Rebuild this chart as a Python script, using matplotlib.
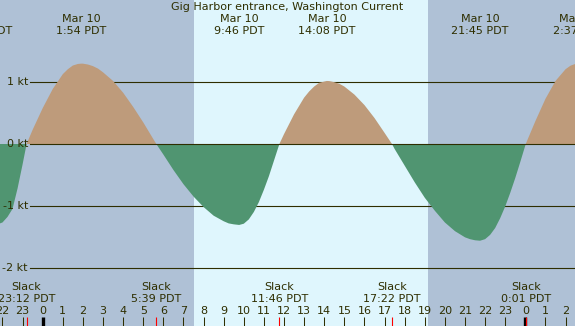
import numpy as np
import matplotlib
matplotlib.use("Agg")
import matplotlib.pyplot as plt

# current speed (kt), hours from Mar 10 00:00 PDT
hours = [-2.5, -2.25, -2.0, -1.75, -1.5, -1.25, -1.0, -0.8, -0.5, 0.0, 0.5, 1.0, 1.25, 1.5,
         1.75, 1.9, 2.0, 2.25, 2.5, 2.75, 3.0, 3.5, 4.0, 4.5, 5.0, 5.5, 5.65, 6.0, 6.5,
         7.0, 7.5, 8.0, 8.5, 9.0, 9.25, 9.5, 9.77, 10.0, 10.25, 10.5, 10.75, 11.0,
         11.25, 11.5, 11.77, 12.0, 12.5, 13.0, 13.25, 13.5, 13.75, 14.0, 14.13, 14.25,
         14.5, 14.75, 15.0, 15.5, 16.0, 16.5, 17.0, 17.37, 17.5, 18.0, 18.5, 19.0,
         19.5, 20.0, 20.5, 21.0, 21.25, 21.5, 21.75, 22.0, 22.25, 22.5, 22.75, 23.0,
         23.25, 23.5, 23.75, 24.02, 24.5, 25.0, 25.5, 26.0, 26.25, 26.5, 26.75, 27.0]
speeds = [-1.33, -1.30, -1.27, -1.18, -1.05, -0.72, -0.33, 0.0, 0.23, 0.58, 0.89, 1.13, 1.21, 1.27,
          1.295, 1.30, 1.30, 1.286, 1.26, 1.22, 1.16, 1.02, 0.83, 0.60, 0.35, 0.08, 0.0, -0.17, -0.42,
          -0.65, -0.85, -1.02, -1.16, -1.25, -1.285, -1.30, -1.31, -1.29, -1.22, -1.10, -0.94, -0.74,
          -0.52, -0.27, 0.0, 0.16, 0.48, 0.75, 0.85, 0.93, 0.99, 1.01, 1.02, 1.018,
          1.00, 0.975, 0.93, 0.80, 0.63, 0.42, 0.18, 0.0, -0.08, -0.35, -0.62, -0.87,
          -1.08, -1.27, -1.41, -1.51, -1.54, -1.558, -1.565, -1.54, -1.47, -1.36, -1.20, -1.01,
          -0.79, -0.55, -0.29, 0.0, 0.37, 0.73, 1.02, 1.21, 1.268, 1.297, 1.30, 1.29]

max_times = [-2.95, 1.9, 9.767, 14.133, 21.75, 26.617]
max_labels = ["Mar 9\n21:03 PDT", "Mar 10\n1:54 PDT", "Mar 10\n9:46 PDT",
              "Mar 10\n14:08 PDT", "Mar 10\n21:45 PDT", "Mar 11\n2:37 PDT"]
slack_times = [-0.8, 5.65, 11.767, 17.367, 24.017]
slack_labels = ["Slack\n23:12 PDT", "Slack\n5:39 PDT", "Slack\n11:46 PDT",
                "Slack\n17:22 PDT", "Slack\n0:01 PDT"]
hour_ticks = list(range(-2, 27))
kt_levels = [1, 0, -1, -2]
sunrise = 7.52
sunset = 19.16

night = "#afc1d6"
day = "#dff6fd"
flood = "#be9b7b"
ebb = "#509571"
fg = "#2e2e00"

W, H = 575, 326
fig = plt.figure(figsize=(W / 100, H / 100), dpi=100)
ax = fig.add_axes([0, 0, 1, 1])
t0 = -2.123
t1 = 26.47
ax.set_xlim(t0, t1)
ax.set_ylim(-2.945, 2.330)
ax.axis("off")

def ypx(p):
    return 1 - p / H

ax.axvspan(t0, sunrise, color=night, lw=0, zorder=0)
ax.axvspan(sunrise, sunset, color=day, lw=0, zorder=0)
ax.axvspan(sunset, t1, color=night, lw=0, zorder=0)

for k in kt_levels:
    ax.axhline(k, xmin=30 / W, xmax=1, color=fg, lw=0.8, zorder=1 if k != 0 else 3)
    ax.text(28 / W, k, "%d kt" % k, transform=ax.get_yaxis_transform(),
            ha="right", va="center", fontsize=8, color=fg, zorder=4)

h = np.array(hours)
s = np.array(speeds)
ax.fill_between(h, s, 0, where=s >= 0, interpolate=True, color=flood, lw=0, zorder=2)
ax.fill_between(h, s, 0, where=s <= 0, interpolate=True, color=ebb, lw=0, zorder=2)

tr = ax.get_xaxis_transform()
ax.text((t0 + t1) / 2, ypx(7.5), "Gig Harbor entrance, Washington Current",
        transform=tr, ha="center", va="center", fontsize=8, color=fg)
for t, lab in zip(max_times, max_labels):
    l1, l2 = lab.split("\n")
    ax.text(t, ypx(19.5), l1, transform=tr, ha="center", va="center", fontsize=8, color=fg)
    ax.text(t, ypx(31.5), l2, transform=tr, ha="center", va="center", fontsize=8, color=fg)
for t, lab in zip(slack_times, slack_labels):
    l1, l2 = lab.split("\n")
    ax.text(t, ypx(287.5), l1, transform=tr, ha="center", va="center", fontsize=8, color=fg)
    ax.text(t, ypx(299.5), l2, transform=tr, ha="center", va="center", fontsize=8, color=fg)

for hr in hour_ticks:
    ax.text(hr, ypx(311.5), str(hr % 24), transform=tr, ha="center", va="center",
            fontsize=8, color=fg)
    if hr % 24 == 0:
        ax.plot([hr, hr], [0, ypx(317)], transform=tr, color="black", lw=2.4,
                solid_capstyle="butt", zorder=5)
    else:
        ax.plot([hr, hr], [0, ypx(317)], transform=tr, color=fg, lw=0.75,
                solid_capstyle="butt", zorder=5)
for t in slack_times:
    ax.plot([t, t], [0, ypx(317)], transform=tr, color="red", lw=0.8,
            solid_capstyle="butt", zorder=6)

fig.savefig("out.png", dpi=100)
